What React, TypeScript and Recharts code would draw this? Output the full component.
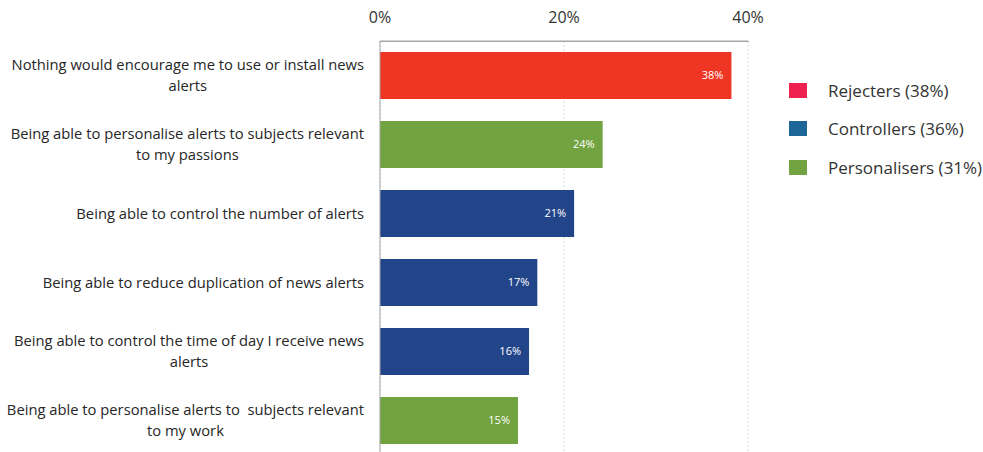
import React from 'react';
import { BarChart, Bar, XAxis, YAxis, CartesianGrid, Cell, LabelList } from 'recharts';

// categories (line breaks as in the original)
const categories = [
  'Nothing would encourage me to use or install news\nalerts',
  'Being able to personalise alerts to subjects relevant\nto my passions',
  'Being able to control the number of alerts',
  'Being able to reduce duplication of news alerts',
  'Being able to control the time of day I receive news\nalerts',
  'Being able to personalise alerts to  subjects relevant\nto my work',
];
const values = [38.2, 24.2, 21.1, 17.1, 16.2, 15.0];
const valueLabels = ['38%', '24%', '21%', '17%', '16%', '15%'];
const groups = ['Rejecters', 'Personalisers', 'Controllers', 'Controllers', 'Controllers', 'Personalisers'];
const xTicks = [0, 20, 40];

const legendItems = [
  { name: 'Rejecters (38%)', color: '#EE2150' },
  { name: 'Controllers (36%)', color: '#1C6699' },
  { name: 'Personalisers (31%)', color: '#71A340' },
];

const barColors: Record<string, string> = {
  Rejecters: '#EF3524',
  Controllers: '#22458A',
  Personalisers: '#71A340',
};

const data = categories.map((c, i) => ({
  name: c,
  value: values[i],
  label: valueLabels[i],
  group: groups[i],
}));

const FONT = '"Open Sans", sans-serif';
const LABEL_SIZE = 14.75;

let ctx: CanvasRenderingContext2D | null = null;
const measure = (s: string) => {
  if (!ctx) ctx = document.createElement('canvas').getContext('2d');
  if (!ctx) return s.length * 7;
  ctx.font = `${LABEL_SIZE}px "Open Sans"`;
  return ctx.measureText(s).width;
};

const CategoryTick = (props: any) => {
  const { y, payload } = props;
  const lines: string[] = String(payload.value).split('\n');
  const maxW = Math.max(...lines.map(measure));
  const right = 364;
  const cx = right - maxW / 2;
  const lh = 21.5;
  const startY = y - ((lines.length - 1) * lh) / 2;
  return (
    <text
      x={cx}
      y={startY}
      textAnchor="middle"
      fill="#262626"
      fontSize={LABEL_SIZE}
      fontFamily={FONT}
      style={{ whiteSpace: 'pre' }}
    >
      {lines.map((l, i) => (
        <tspan key={i} x={cx} y={startY + i * lh} dy="0.35em">
          {l}
        </tspan>
      ))}
    </text>
  );
};

const ValueLabel = (props: any) => {
  const { x, y, width, height, value } = props;
  return (
    <text
      x={x + width - 8}
      y={y + height / 2}
      dy="0.35em"
      textAnchor="end"
      fill="#ffffff"
      fontSize={11}
      fontFamily={FONT}
    >
      {value}
    </text>
  );
};

const App: React.FC = () => {
  return (
    <div style={{ position: 'absolute', top: 0, left: 0, width: 983, height: 452, overflow: 'hidden', background: '#fff' }}>
      <BarChart
        width={983}
        height={456}
        data={data}
        layout="vertical"
        margin={{ top: 0, right: 235, left: 0, bottom: 1 }}
      >
        <CartesianGrid horizontal={false} stroke="#D9D9D9" strokeDasharray="2 2" />
        <XAxis
          type="number"
          orientation="top"
          domain={[0, 40]}
          ticks={xTicks}
          tickFormatter={(v: number) => `${v}%`}
          axisLine={{ stroke: '#A6A6A6' }}
          tickLine={false}
          tickSize={0}
          tickMargin={18}
          height={41}
          tick={{ fill: '#333333', fontSize: 16, fontFamily: FONT }}
          interval={0}
        />
        <YAxis
          type="category"
          dataKey="name"
          width={380}
          axisLine={{ stroke: '#A6A6A6' }}
          tickLine={false}
          tick={<CategoryTick />}
          interval={0}
        />
        <Bar dataKey="value" barSize={47} isAnimationActive={false}>
          {data.map((d, i) => (
            <Cell key={i} fill={barColors[d.group]} />
          ))}
          <LabelList dataKey="label" content={<ValueLabel />} />
        </Bar>
      </BarChart>
      {/* top frame line of the plot area */}
      <div style={{ position: 'absolute', left: 380, top: 41, width: 369, height: 1, background: '#A6A6A6' }} />
      <div style={{ position: 'absolute', left: 789, top: 71, fontFamily: FONT }}>
        {legendItems.map((it) => (
          <div key={it.name} style={{ display: 'flex', alignItems: 'center', height: 38.5 }}>
            <div style={{ width: 18, height: 15, background: it.color, marginRight: 21 }} />
            <span style={{ fontSize: 17, color: '#333333' }}>{it.name}</span>
          </div>
        ))}
      </div>
    </div>
  );
};

export default App;
